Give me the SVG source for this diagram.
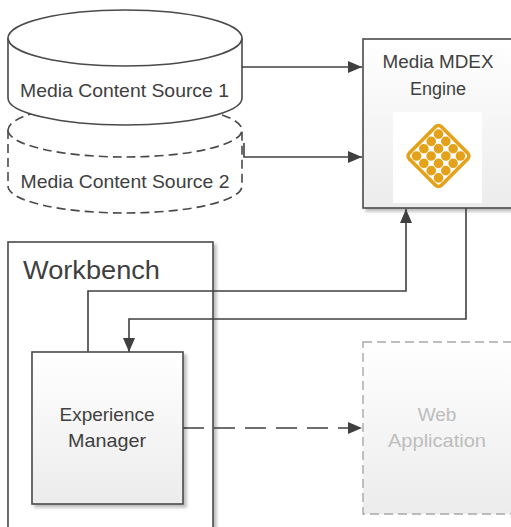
<svg xmlns="http://www.w3.org/2000/svg" width="511" height="527" viewBox="0 0 511 527">
<style>
  text { font-family: "Liberation Sans", Arial, sans-serif; fill: #404040; }
  .ln { fill: none; stroke: #404040; stroke-width: 1.6; }
  .box { stroke: #4a4a4a; stroke-width: 1.6; }
  .cyl { fill: #ffffff; stroke: #4a4a4a; stroke-width: 1.6; }
  .cyld { fill: #ffffff; stroke: #4a4a4a; stroke-width: 1.6; stroke-dasharray: 9 5; }
  .ghost { fill: #bdbdbd; }
</style>
<defs>
  <linearGradient id="g" x1="0" y1="0" x2="0" y2="1">
    <stop offset="0" stop-color="#ffffff"/>
    <stop offset="1" stop-color="#ececec"/>
  </linearGradient>
  <filter id="sh" x="-10%" y="-10%" width="130%" height="130%">
    <feGaussianBlur in="SourceAlpha" stdDeviation="1.5"/>
    <feOffset dx="3" dy="3" result="b"/>
    <feComponentTransfer><feFuncA type="linear" slope="0.25"/></feComponentTransfer>
    <feMerge><feMergeNode/><feMergeNode in="SourceGraphic"/></feMerge>
  </filter>
  <marker id="ah" viewBox="0 0 14 12" refX="14" refY="6" markerWidth="14" markerHeight="12" markerUnits="userSpaceOnUse" orient="auto">
    <path d="M0,0 L14,6 L0,12 Z" fill="#404040"/>
  </marker>
</defs>

<g id="source2">
  <path class="cyld" d="M8,130 V186 A117,27 0 0 0 242,186 V130 A117,27 0 0 0 8,130 Z"/>
  <path class="cyld" d="M8,130 A117,27 0 0 0 242,130"/>
  <text x="125" y="188" font-size="19" text-anchor="middle" textLength="209" lengthAdjust="spacingAndGlyphs">Media Content Source 2</text>
</g>

<g id="source1">
  <path class="cyl" d="M8,38 V98 A117,27 0 0 0 242,98 V38 A117,28 0 0 0 8,38 Z"/>
  <path class="cyl" d="M8,38 A117,28 0 0 0 242,38"/>
  <text x="124.5" y="97" font-size="19" text-anchor="middle" textLength="209" lengthAdjust="spacingAndGlyphs">Media Content Source 1</text>
</g>

<g id="mdex">
  <rect class="box" x="363" y="39" width="160" height="169" fill="url(#g)" filter="url(#sh)"/>
  <text x="438" y="68" font-size="18" text-anchor="middle" textLength="111" lengthAdjust="spacingAndGlyphs">Media MDEX</text>
  <text x="438" y="95" font-size="18" text-anchor="middle">Engine</text>
  <rect x="393" y="112" width="89" height="91" fill="#ffffff"/>
  <g transform="translate(438.5,156) rotate(45)">
    <rect x="-24.5" y="-24.5" width="49" height="49" rx="6" fill="#E3A21A"/>
    <rect x="-21" y="-21" width="42" height="42" rx="3" fill="#ffffff"/>
    <g fill="#E3A21A">
      <circle cx="-15.5" cy="-15.5" r="4.8"/><circle cx="-5.2" cy="-15.5" r="4.8"/><circle cx="5.2" cy="-15.5" r="4.8"/><circle cx="15.5" cy="-15.5" r="4.8"/>
      <circle cx="-15.5" cy="-5.2" r="4.8"/><circle cx="-5.2" cy="-5.2" r="4.8"/><circle cx="5.2" cy="-5.2" r="4.8"/><circle cx="15.5" cy="-5.2" r="4.8"/>
      <circle cx="-15.5" cy="5.2" r="4.8"/><circle cx="-5.2" cy="5.2" r="4.8"/><circle cx="5.2" cy="5.2" r="4.8"/><circle cx="15.5" cy="5.2" r="4.8"/>
      <circle cx="-15.5" cy="15.5" r="4.8"/><circle cx="-5.2" cy="15.5" r="4.8"/><circle cx="5.2" cy="15.5" r="4.8"/><circle cx="15.5" cy="15.5" r="4.8"/>
    </g>
  </g>
</g>

<g id="workbench">
  <rect class="box" x="8" y="242" width="205" height="300" fill="#ffffff" filter="url(#sh)"/>
  <text x="23" y="279" font-size="25" textLength="137" lengthAdjust="spacingAndGlyphs">Workbench</text>
</g>

<g id="webapp">
  <rect x="363" y="342" width="160" height="172" fill="url(#g)" stroke="#a8a8a8" stroke-width="1.4" stroke-dasharray="9 5"/>
  <text class="ghost" x="437" y="421" font-size="19" text-anchor="middle">Web</text>
  <text class="ghost" x="437" y="447" font-size="19" text-anchor="middle" textLength="98" lengthAdjust="spacingAndGlyphs">Application</text>
</g>

<g id="connectors">
  <path class="ln" d="M242,67 H362" marker-end="url(#ah)"/>
  <path class="ln" d="M244,143 V157 H362" marker-end="url(#ah)"/>
  <path class="ln" d="M88,352 V291 H406 V209" marker-end="url(#ah)"/>
  <path class="ln" d="M466,208 V319 H129 V352" marker-end="url(#ah)"/>
  <path class="ln" d="M183,428 H362" stroke-width="2" stroke-dasharray="21 10" marker-end="url(#ah)"/>
</g>

<g id="experience-manager">
  <rect class="box" x="32" y="352" width="151" height="152" fill="url(#g)" filter="url(#sh)"/>
  <text x="107" y="421" font-size="19" text-anchor="middle" textLength="95" lengthAdjust="spacingAndGlyphs">Experience</text>
  <text x="107" y="447" font-size="19" text-anchor="middle" textLength="78" lengthAdjust="spacingAndGlyphs">Manager</text>
</g>
</svg>
